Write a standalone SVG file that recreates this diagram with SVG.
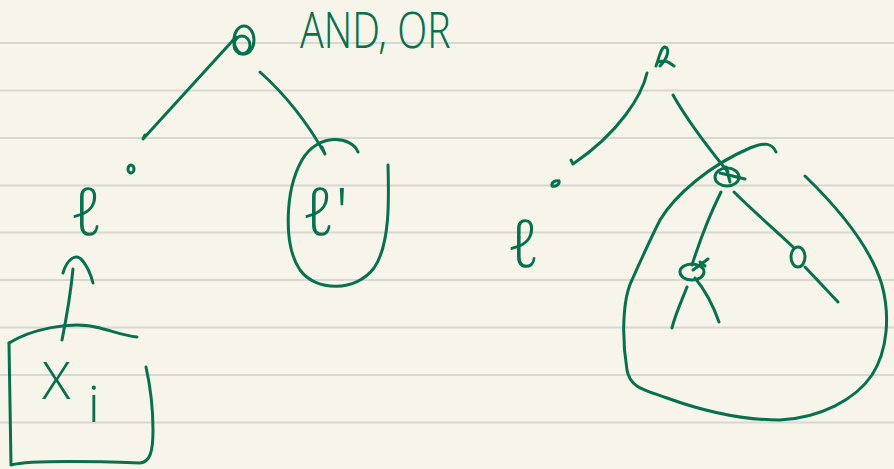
<svg xmlns="http://www.w3.org/2000/svg" width="894" height="469" viewBox="0 0 894 469">
<style>
.ink{fill:none;stroke:#08704f;stroke-width:3;stroke-linecap:round;stroke-linejoin:round}
.rule{stroke:#d8d8d3;stroke-width:2}
.t{fill:#08704f;font-family:"Noto Sans","Liberation Sans",sans-serif;font-weight:300}
.ell{fill:#08704f;font-family:"Noto Sans","DejaVu Sans",sans-serif;font-weight:300}
</style>
<rect x="0" y="0" width="894" height="469" fill="#f7f5e9"/>
<g id="paper-lines">
<line class="rule" x1="0" y1="43" x2="894" y2="43"/>
<line class="rule" x1="0" y1="90.5" x2="894" y2="90.5"/>
<line class="rule" x1="0" y1="138" x2="894" y2="138"/>
<line class="rule" x1="0" y1="185.5" x2="894" y2="185.5"/>
<line class="rule" x1="0" y1="232.5" x2="894" y2="232.5"/>
<line class="rule" x1="0" y1="280" x2="894" y2="280"/>
<line class="rule" x1="0" y1="327.5" x2="894" y2="327.5"/>
<line class="rule" x1="0" y1="375" x2="894" y2="375"/>
<line class="rule" x1="0" y1="422.5" x2="894" y2="422.5"/>
</g>
<g id="connectors">
<path class="ink" d="M236,37 L143,139 L145,135"/>
<path class="ink" d="M260,72 Q298,106 325,154 L322,147"/>
<path class="ink" d="M62,340 Q70,300 73,269"/>
<path class="ink" d="M63,273 C67,259 76,253 82,260 C87,266 91,275 93,283"/>
<path class="ink" d="M647,73 C642,95 620,132 573,164 L571,160"/>
<path class="ink" d="M673,95 C690,125 710,150 728,172 L724,167"/>
<path class="ink" d="M721,192 C712,210 700,240 692,265"/>
<path class="ink" d="M734,192 C752,210 775,230 793,247"/>
<path class="ink" d="M687,287 C682,300 675,315 672,328"/>
<path class="ink" d="M695,278 C705,290 713,305 719,322"/>
<path class="ink" d="M805,267 L838,302"/>
</g>
<g id="left-root">
<ellipse class="ink" cx="244" cy="40" rx="10" ry="14"/>
<ellipse class="ink" cx="242" cy="45" rx="8" ry="9"/>
</g>
<g id="label-and-or">
<text class="t" transform="translate(300,48) scale(0.78,1)" x="0" y="0" font-size="50">AND, OR</text>
</g>
<g id="left-dot">
<ellipse class="ink" cx="131" cy="169" rx="3" ry="4"/>
</g>
<g id="left-l">
<text class="ell" x="70" y="235" font-size="66">ℓ</text>
</g>
<g id="right-lprime">
<path class="ink" d="M358,152 C352,136 318,132 302,160 C285,190 283,245 300,270 C316,292 356,292 374,268 C390,245 389,200 388,165"/>
<text class="ell" x="302" y="235" font-size="66">ℓ'</text>
</g>
<g id="xi-box">
<path class="ink" d="M9,343 C30,330 70,320 100,328 C115,332 125,336 137,337"/>
<path class="ink" d="M9,343 L11,465 C30,460 110,462 140,463 C150,462 153,452 153,430 C153,405 150,385 146,367"/>
<text class="t" x="42" y="399" font-size="52">X</text>
<text class="t" x="88" y="422" font-size="50">i</text>
</g>
<g id="right-root">
<path class="ink" d="M656,66 C659,58 661,47 665,47 C670,48 668,58 660,66 M659,62 C665,59 670,63 674,66"/>
</g>
<g id="right-dot">
<path class="ink" d="M552,186 C551,182 556,180 559,181 C560,184 556,187 552,186 Z"/>
</g>
<g id="right-l">
<text class="ell" x="507" y="267" font-size="66">ℓ</text>
</g>
<g id="enclosure">
<path class="ink" d="M805,176 C835,205 870,245 882,285 C890,315 888,350 872,375 C855,400 820,418 780,420 C740,420 700,410 667,398 C645,390 630,388 627,370 C622,340 622,300 632,280 C640,262 650,240 660,220 C675,195 710,165 750,148 C765,142 772,143 776,152"/>
</g>
<g id="mid-node">
<ellipse class="ink" cx="727" cy="177" rx="12" ry="9"/>
<path class="ink" d="M720,173 L745,179 M726,167 L730,182"/>
</g>
<g id="left-child">
<ellipse class="ink" cx="692" cy="272" rx="12" ry="8"/>
<path class="ink" d="M693,270 L708,259 M700,262 L705,266"/>
</g>
<g id="right-child">
<ellipse class="ink" cx="798" cy="257" rx="7" ry="10"/>
</g>
</svg>
